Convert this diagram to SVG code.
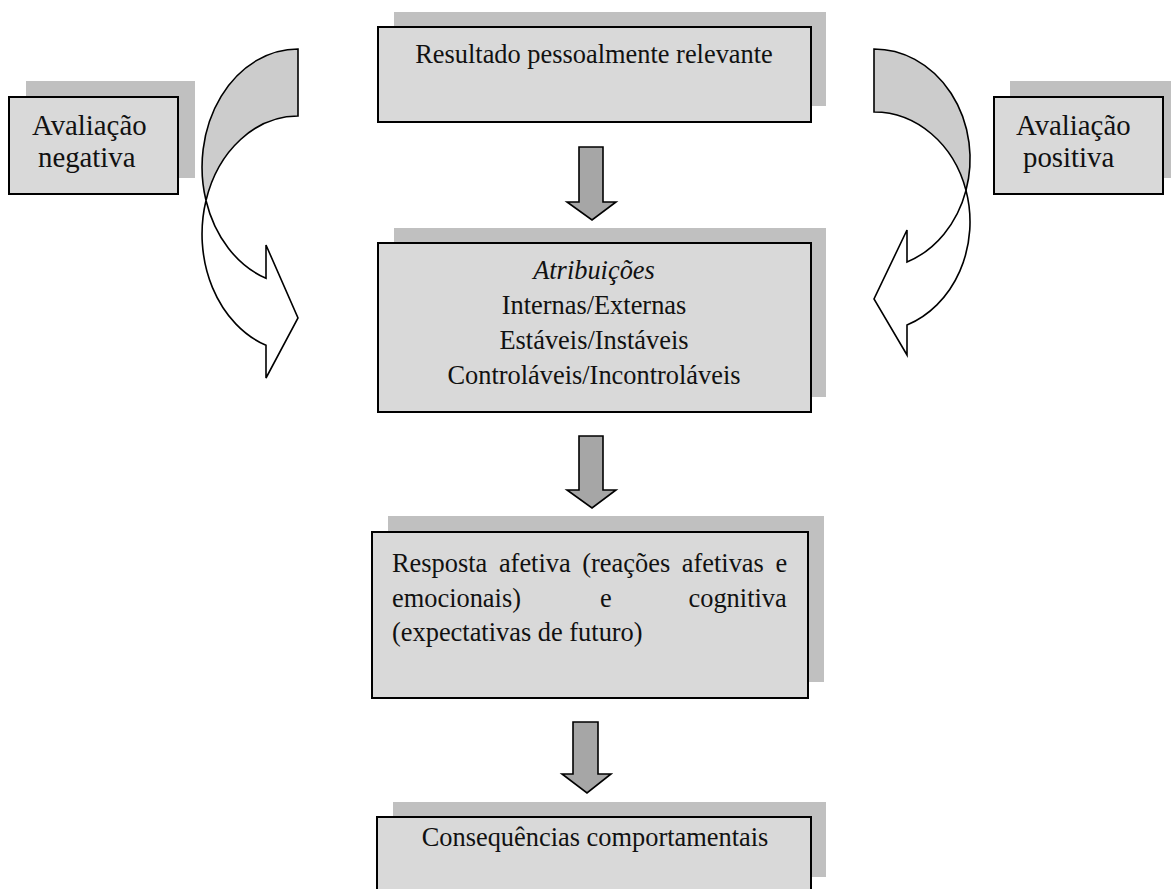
<svg xmlns="http://www.w3.org/2000/svg" width="1171" height="889" viewBox="0 0 1171 889">
<style>
.shadow{fill:#c0c0c0;stroke:none}
.box{fill:#d9d9d9;stroke:#000;stroke-width:2}
.t{font-family:"Liberation Serif","Times New Roman",serif;font-size:26.4px;fill:#111}
.tb{font-family:"Liberation Serif","Times New Roman",serif;font-size:28.8px;fill:#111}
.mid{text-anchor:middle}
.darrow{fill:#a6a6a6;stroke:#000;stroke-width:1.6;stroke-linejoin:miter}
.cback{fill:#cccccc;stroke:#000;stroke-width:1.6}
.cfront{fill:#ffffff;stroke:#000;stroke-width:1.6;stroke-linejoin:miter}
</style>
<rect width="1171" height="889" fill="#ffffff"/>

<g id="node-resultado">
<rect class="shadow" x="394" y="12" width="432" height="94"/>
<rect class="box" x="378" y="27" width="433" height="95"/>
<text class="t mid" x="594" y="63">Resultado pessoalmente relevante</text>
</g>

<g id="node-negativa">
<rect class="shadow" x="26" y="81" width="169" height="97"/>
<rect class="box" x="9" y="97" width="169" height="97"/>
<text class="tb" x="32" y="135">Avaliação</text>
<text class="tb" x="38" y="167">negativa</text>
</g>

<g id="node-positiva">
<rect class="shadow" x="1010" y="81" width="169" height="97"/>
<rect class="box" x="994" y="97" width="169" height="97"/>
<text class="tb" x="1016" y="135">Avaliação</text>
<text class="tb" x="1023" y="167">positiva</text>
</g>

<g id="node-atribuicoes">
<rect class="shadow" x="394" y="228" width="432" height="169"/>
<rect class="box" x="378" y="243" width="433" height="169"/>
<text class="t mid" x="594" y="278.5" font-style="italic">Atribuições</text>
<text class="t mid" x="594" y="313.5">Internas/Externas</text>
<text class="t mid" x="594" y="348.5">Estáveis/Instáveis</text>
<text class="t mid" x="594" y="383.5">Controláveis/Incontroláveis</text>
</g>

<g id="node-resposta">
<rect class="shadow" x="388" y="516" width="436" height="166"/>
<rect class="box" x="372" y="532" width="436" height="166"/>
<text class="t" x="392" y="572" word-spacing="5">Resposta afetiva (reações afetivas e</text>
<text class="t" y="606.5"><tspan x="392">emocionais)</tspan><tspan x="600">e</tspan><tspan x="688.5">cognitiva</tspan></text>
<text class="t" x="392" y="641">(expectativas de futuro)</text>
</g>

<g id="node-consequencias">
<rect class="shadow" x="393" y="802" width="433" height="75"/>
<rect class="box" x="377" y="817" width="434" height="76"/>
<text class="t mid" x="595" y="846">Consequências comportamentais</text>
</g>

<g id="connectors">
<path class="darrow" d="M579,147 H603 V202 H616 L592,220 L567,202 H579 Z"/>
<path class="darrow" d="M579,436 H603 V490 H616 L592,508 L567,490 H579 Z"/>
<path class="darrow" d="M573,722 H598 V774 H611 L587,793 L562,774 H573 Z"/>

<g id="curved-left">
<path class="cback" d="M298,49 A96,118 0 0 0 206,200.5 A96,118 0 0 1 298,116 Z"/>
<path class="cfront" d="M206,200.5 A96,118 0 0 0 266,278.3 L266,245 L298,318 L266,378 L266,345.3 A96,118 0 0 1 206,200.5 Z"/>
</g>

<g id="curved-right">
<path class="cback" d="M874,49 A96,109.85 0 0 1 966,190.4 A96,109.85 0 0 0 874,112 Z"/>
<path class="cfront" d="M966,190.4 A96,109.85 0 0 1 907,262 L907,230 L874,299 L907,355 L907,325 A96,109.85 0 0 0 966,190.4 Z"/>
</g>
</g>
</svg>
